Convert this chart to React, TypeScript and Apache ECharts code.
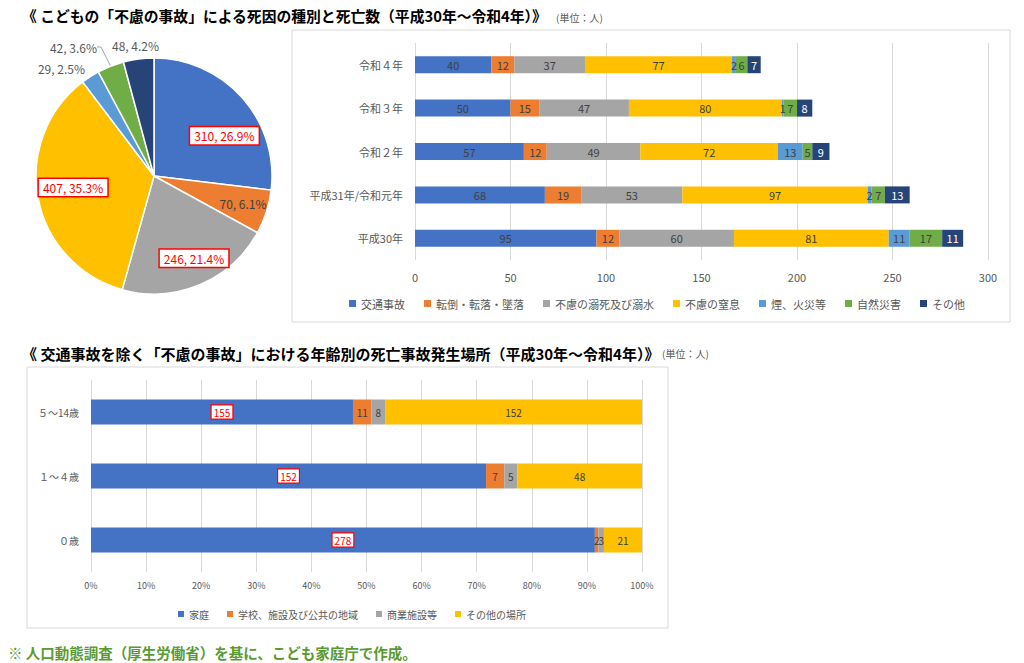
import React, { useEffect, useRef } from "react";
import * as echarts from "echarts";

// ---- Top: causes of death by year ----
const yearCategories = ["平成30年", "平成31年/令和元年", "令和２年", "令和３年", "令和４年"];
const causeNames = ["交通事故", "転倒・転落・墜落", "不慮の溺死及び溺水", "不慮の窒息", "煙、火災等", "自然災害", "その他"];
const traffic = [95, 68, 57, 50, 40];
const falls = [12, 19, 12, 15, 12];
const drowning = [60, 53, 49, 47, 37];
const suffocation = [81, 97, 72, 80, 77];
const fire = [11, 2, 13, 1, 2];
const disaster = [17, 7, 5, 7, 6];
const otherCause = [11, 13, 9, 8, 7];
const causeColors = ["#4472C4", "#ED7D31", "#A5A5A5", "#FFC000", "#5B9BD5", "#70AD47", "#264478"];

// ---- Pie: totals ----
const pieValues = [310, 70, 246, 407, 29, 42, 48];

// ---- Bottom: places by age ----
const ageCategories = ["０歳", "１～４歳", "５～14歳"];
const placeNames = ["家庭", "学校、施設及び公共の地域", "商業施設等", "その他の場所"];
const home = [278, 152, 155];
const school = [2, 7, 11];
const commercial = [3, 5, 8];
const otherPlace = [21, 48, 152];
const placeColors = ["#4472C4", "#ED7D31", "#A5A5A5", "#FFC000"];

const FONT = "'Noto Sans CJK JP', 'Noto Sans', sans-serif";

export default function App() {
  const ref = useRef<HTMLDivElement>(null);
  useEffect(() => {
    if (!ref.current) return;
    const chart = echarts.init(ref.current, undefined, { renderer: "svg" });

    const causeData = [traffic, falls, drowning, suffocation, fire, disaster, otherCause];
    const placeData = [home, school, commercial, otherPlace];
    const ageTotals = ageCategories.map((_, i) => placeData.reduce((s, arr) => s + arr[i], 0));

    const boxLabel = {
      color: "#FF0000",
      backgroundColor: "#ffffff",
      borderColor: "#FF0000",
      borderWidth: 1.5,
      padding: [3, 4, 2, 4],
    };

    const pieLabelCfg: any[] = [
      { position: "inside", offset: [24, 1], ...boxLabel, fontSize: 12 },
      { position: "inside", offset: [30, 9], color: "#404040", fontSize: 12 },
      { position: "inside", offset: [16, 25], ...boxLabel, fontSize: 12 },
      { position: "inside", offset: [-20, 0], ...boxLabel, fontSize: 12 },
      { position: "outside", color: "#595959", fontSize: 12 },
      { position: "outside", color: "#595959", fontSize: 12 },
      { position: "outside", color: "#595959", fontSize: 12 },
    ];
    const pieLabelLine = [false, false, false, false, false, true, false];
    // where the small outside pie labels sit (label anchor, right/left edge)
    const outsideLabelSpots: Record<number, { x: number; y: number; align: string }> = {
      4: { x: 85, y: 68, align: "right" },
      5: { x: 97, y: 47, align: "right" },
      6: { x: 112, y: 45, align: "left" },
    };

    const topSeries = causeNames.map((name, si) => ({
      type: "bar",
      name,
      stack: "cause",
      xAxisIndex: 0,
      yAxisIndex: 0,
      barWidth: 17,
      itemStyle: { color: causeColors[si] },
      label: {
        show: true,
        position: "inside",
        color: si === 6 ? "#ffffff" : "#404040",
        fontSize: 11,
        fontFamily: FONT,
      },
      data: causeData[si],
    }));

    const bottomSeries = placeNames.map((name, si) => ({
      type: "bar",
      name,
      stack: "place",
      xAxisIndex: 1,
      yAxisIndex: 1,
      barWidth: 25,
      itemStyle: { color: placeColors[si] },
      label: {
        show: true,
        position: "inside",
        fontSize: 10,
        fontFamily: FONT,
        formatter: (p: any) => String(p.data.raw),
        ...(si === 0
          ? { color: "#FF0000", backgroundColor: "#ffffff", borderColor: "#FF0000", borderWidth: 1.2, padding: [2, 2, 1, 2] }
          : { color: "#404040" }),
      },
      data: placeData[si].map((v, i) => ({ value: (v / ageTotals[i]) * 100, raw: v })),
    }));

    const option: any = {
      animation: false,
      textStyle: { fontFamily: FONT },
      grid: [
        { left: 415, top: 43, width: 573, height: 217 },
        { left: 91, top: 380, width: 551, height: 192 },
      ],
      xAxis: [
        {
          gridIndex: 0,
          type: "value",
          min: 0,
          max: 300,
          interval: 50,
          axisLine: { show: false },
          axisTick: { show: false },
          splitLine: { lineStyle: { color: "#D9D9D9" } },
          axisLabel: { color: "#595959", fontSize: 11, margin: 11, fontFamily: FONT },
        },
        {
          gridIndex: 1,
          type: "value",
          min: 0,
          max: 100,
          interval: 10,
          axisLine: { show: false },
          axisTick: { show: false },
          splitLine: { lineStyle: { color: "#D9D9D9" } },
          axisLabel: { color: "#595959", fontSize: 9, margin: 9, formatter: "{value}%", fontFamily: FONT },
        },
      ],
      yAxis: [
        {
          gridIndex: 0,
          type: "category",
          data: yearCategories,
          axisLine: { show: false },
          axisTick: { show: false },
          axisLabel: { color: "#595959", fontSize: 11, margin: 12, fontFamily: FONT },
        },
        {
          gridIndex: 1,
          type: "category",
          data: ageCategories,
          axisLine: { show: false },
          axisTick: { show: false },
          axisLabel: { color: "#595959", fontSize: 10, margin: 12, fontFamily: FONT },
        },
      ],
      legend: [
        {
          data: causeNames,
          left: 344,
          top: 293,
          icon: "rect",
          itemWidth: 7,
          itemHeight: 7,
          itemGap: 19,
          textStyle: { color: "#595959", fontSize: 11, fontFamily: FONT },
        },
        {
          data: placeNames,
          left: 173,
          top: 604,
          icon: "rect",
          itemWidth: 6,
          itemHeight: 6,
          itemGap: 18,
          textStyle: { color: "#595959", fontSize: 10, fontFamily: FONT },
        },
      ],
      series: [
        {
          type: "pie",
          name: "pie",
          center: [154, 176],
          radius: 118,
          startAngle: 90,
          clockwise: true,
          percentPrecision: 1,
          itemStyle: { borderColor: "#ffffff", borderWidth: 1.5 },
          labelLine: { length: 6, length2: 4, lineStyle: { color: "#A6A6A6", width: 1 } },
          labelLayout: (params: any) => {
            const spot = outsideLabelSpots[params.dataIndex];
            if (!spot) return {};
            return { x: spot.x, y: spot.y, align: spot.align, verticalAlign: "middle" };
          },
          data: causeNames.map((name, i) => ({
            name,
            value: pieValues[i],
            itemStyle: { color: causeColors[i] },
            label: { show: true, formatter: "{c}, {d}%", fontFamily: FONT, ...pieLabelCfg[i] },
            labelLine: { show: pieLabelLine[i] },
          })),
        },
        ...topSeries,
        ...bottomSeries,
      ],
      graphic: [
        {
          type: "rect",
          shape: { x: 292, y: 30, width: 718, height: 292 },
          style: { fill: "none", stroke: "#D9D9D9", lineWidth: 1 },
          silent: true,
        },
        {
          type: "rect",
          shape: { x: 27, y: 367, width: 641, height: 261 },
          style: { fill: "none", stroke: "#D9D9D9", lineWidth: 1 },
          silent: true,
        },
        {
          type: "text",
          x: 22,
          y: 15,
          style: {
            text: "《 こどもの「不慮の事故」による死因の種別と死亡数（平成30年～令和4年）》",
            font: `bold 14.8px ${FONT}`,
            fill: "#000000",
            verticalAlign: "middle",
          },
        },
        {
          type: "text",
          x: 556,
          y: 17,
          style: {
            text: "(単位：人)",
            font: `10px ${FONT}`,
            fill: "#595959",
            verticalAlign: "middle",
          },
        },
        {
          type: "text",
          x: 22,
          y: 353,
          style: {
            text: "《 交通事故を除く「不慮の事故」における年齢別の死亡事故発生場所（平成30年～令和4年）》",
            font: `bold 15px ${FONT}`,
            fill: "#000000",
            verticalAlign: "middle",
          },
        },
        {
          type: "text",
          x: 662,
          y: 353,
          style: {
            text: "(単位：人)",
            font: `10px ${FONT}`,
            fill: "#595959",
            verticalAlign: "middle",
          },
        },
        {
          type: "text",
          x: 8,
          y: 652,
          style: {
            text: "※ 人口動態調査（厚生労働省）を基に、こども家庭庁で作成。",
            font: `bold 14.5px ${FONT}`,
            fill: "#5A9A32",
            verticalAlign: "middle",
          },
        },
      ],
    };

    chart.setOption(option);
    return () => chart.dispose();
  }, []);

  return (
    <div
      ref={ref}
      style={{ position: "fixed", left: 0, top: 0, width: 1024, height: 663, background: "#ffffff" }}
    />
  );
}
